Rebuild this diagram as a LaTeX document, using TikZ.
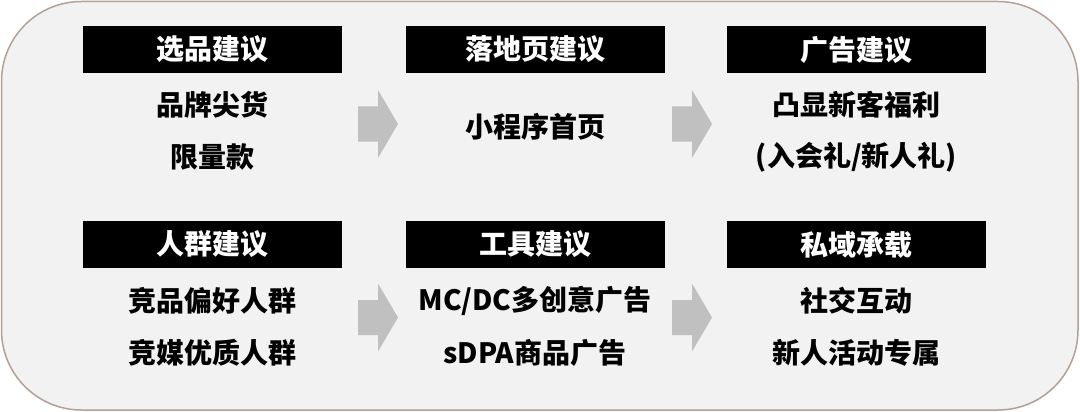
\documentclass[tikz,border=0pt]{standalone}
\usepackage{fontspec}
\setmainfont{Noto Sans CJK SC}
\usetikzlibrary{positioning}
\begin{document}
\begin{tikzpicture}[x=1pt,y=-1pt,
  hdr/.style={fill=black,text=white,minimum width=259pt,minimum height=47pt,inner sep=0pt,font=\fontsize{28}{30}\selectfont\bfseries},
  body/.style={text=black,inner sep=0pt,font=\fontsize{28}{30}\selectfont\bfseries},
  garrow/.style={fill=arrowgray,draw=none}]
\definecolor{bgfill}{HTML}{F2F2F2}
\definecolor{bordercol}{HTML}{B5A096}
\definecolor{arrowgray}{HTML}{C0C0C0}
\useasboundingbox (0,0) rectangle (1080,412);
\draw[fill=bgfill,draw=bordercol,line width=1.5pt,rounded corners=80pt] (1.5,1.5) rectangle (1078,410);
% headers
\node[hdr] (h1) at (212.5,49.5) {选品建议};
\node[hdr] (h2) at (535,49.5) {落地页建议};
\node[hdr] (h3) at (856.5,49.5) {广告建议};
\node[hdr] (h4) at (212.5,244.5) {人群建议};
\node[hdr] (h5) at (535,244.5) {工具建议};
\node[hdr] (h6) at (856.5,244.5) {私域承载};
% body texts
\node[body] (t1a) at (212.5,105) {品牌尖货};
\node[body] (t1b) at (212.5,157) {限量款};
\node[body] (t2a) at (535,127) {小程序首页};
\node[body] (t3a) at (856.5,105) {凸显新客福利};
\node[body] (t3b) at (856.5,157) {(入会礼/新人礼)};
\node[body] (t4a) at (212.5,301) {竞品偏好人群};
\node[body] (t4b) at (212.5,353) {竞媒优质人群};
\node[body] (t5a) at (535,301) {MC/DC多创意广告};
\node[body] (t5b) at (535,353) {sDPA商品广告};
\node[body] (t6a) at (856.5,301) {社交互动};
\node[body] (t6b) at (856.5,353) {新人活动专属};
% arrows
\foreach \x/\y in {358/124, 672/124, 358/317.5, 672/317.5}{
  \fill[garrow] (\x,\y-17.5) -- (\x+20,\y-17.5) -- (\x+20,\y-34) -- (\x+40,\y) -- (\x+20,\y+34) -- (\x+20,\y+17.5) -- (\x,\y+17.5) -- cycle;
}
\end{tikzpicture}
\end{document}
